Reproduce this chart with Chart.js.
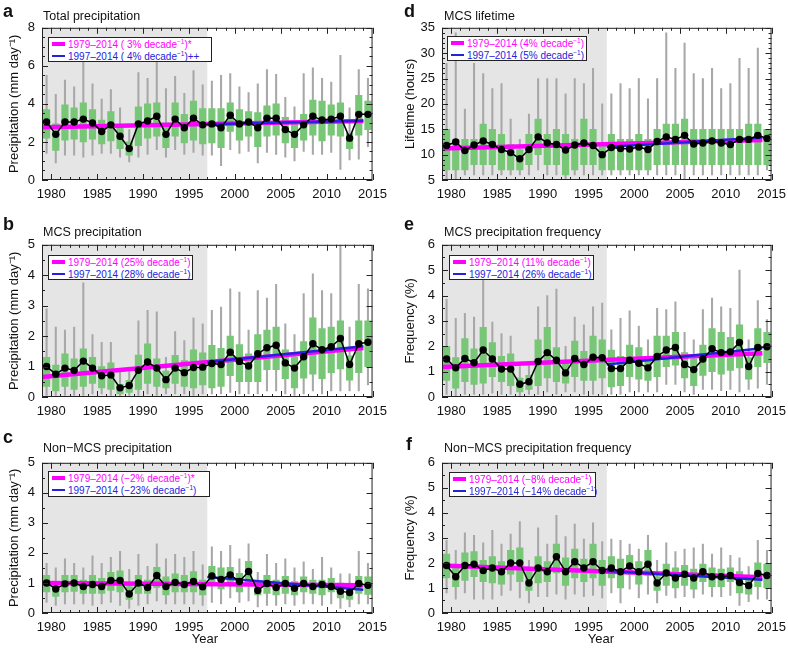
<!DOCTYPE html>
<html>
<head>
<meta charset="utf-8">
<script src="https://cdn.jsdelivr.net/npm/chart.js@4.4.0/dist/chart.umd.min.js"></script>
<style>
  body { margin: 0; background: #fff; font-family: "Liberation Sans", Arial, sans-serif; color: #111; overflow: hidden; }
  #wrap { position: relative; width: 788px; height: 650px; overflow: hidden; }
  canvas { position: absolute; }
  .letter { position: absolute; font-weight: bold; font-size: 18px; line-height: 18px; }
  .title { position: absolute; font-size: 12.5px; line-height: 14px; white-space: nowrap; }
  .xlab { position: absolute; font-size: 13px; line-height: 15px; width: 60px; text-align: center; }
  .legend { position: absolute; background: #fff; border: 1px solid #222; font-size: 10px; line-height: 11.5px; padding: 1px 0 0 3px; white-space: nowrap; box-sizing: border-box; }
  .legend div { height: 11.5px; }
  .legend sup { font-size: 6.5px; line-height: 0; }
  .sw { display: inline-block; width: 13px; margin-right: 3px; vertical-align: middle; position: relative; top: -1px; }
</style>
</head>
<body>
<div id="wrap"></div>
<script>
// years of the record
const years = [1979, 1980, 1981, 1982, 1983, 1984, 1985, 1986, 1987, 1988, 1989, 1990,
  1991, 1992, 1993, 1994, 1995, 1996, 1997, 1998, 1999, 2000, 2001, 2002,
  2003, 2004, 2005, 2006, 2007, 2008, 2009, 2010, 2011, 2012, 2013, 2014];

// a: total precipitation (mm/day)
const totalMean = [3.05, 2.4, 3.05, 3.05, 3.2, 3.0, 2.55, 2.9, 2.3, 1.65, 2.95, 3.1, 3.35, 2.4, 3.2, 2.75, 3.25, 2.9, 2.95, 2.75, 3.4, 2.95, 3.05, 2.75, 3.25, 3.25, 2.65, 2.4, 2.9, 3.35, 3.15, 3.2, 3.35, 2.2, 3.45, 3.45];
const totalQ1 = [2.2, 1.55, 2.1, 2.15, 2.0, 2.15, 1.9, 2.05, 1.65, 1.3, 1.8, 2.2, 2.3, 1.7, 2.3, 1.95, 2.1, 1.9, 1.95, 1.7, 2.55, 2.1, 2.3, 1.75, 2.3, 2.35, 1.95, 1.7, 2.1, 2.35, 2.05, 2.35, 2.3, 1.65, 2.35, 2.65];
const totalQ3 = [3.7, 2.95, 3.95, 3.8, 4.05, 3.7, 3.15, 3.6, 2.85, 2.0, 3.85, 4.0, 4.05, 3.0, 4.05, 3.45, 4.15, 3.75, 3.75, 3.75, 4.05, 3.7, 3.6, 3.55, 3.9, 4.0, 3.3, 3.05, 3.45, 4.2, 4.15, 3.95, 4.05, 2.45, 4.45, 4.15];
const totalMin = [1.4, 0.9, 1.3, 1.3, 1.2, 1.3, 1.4, 1.4, 1.2, 0.95, 1.2, 1.35, 1.6, 1.2, 1.6, 1.35, 1.45, 1.3, 1.3, 0.75, 1.6, 1.4, 1.5, 0.9, 1.45, 1.35, 1.2, 1.0, 1.5, 1.35, 1.35, 1.45, 0.55, 1.05, 1.1, 1.75];
const totalMax = [5.5, 4.5, 5.25, 4.9, 6.2, 5.05, 4.25, 4.75, 3.8, 2.65, 5.65, 5.35, 6.2, 4.8, 5.45, 4.55, 5.75, 5.0, 5.2, 5.5, 5.6, 4.9, 4.6, 5.05, 5.8, 5.55, 4.35, 3.85, 5.6, 5.9, 5.35, 5.15, 6.55, 3.8, 5.8, 5.35];
const totalTrendAll = [2.77, 3.1];
const totalTrendRecent = [2.93, 3.12];

// b: MCS precipitation
const mcsMean = [1.0, 0.75, 0.95, 0.87, 1.18, 0.95, 0.7, 0.72, 0.3, 0.38, 0.88, 1.15, 0.95, 0.57, 0.95, 0.8, 0.97, 0.98, 1.1, 1.07, 1.47, 1.17, 1.02, 1.42, 1.62, 1.7, 1.12, 0.95, 1.32, 1.75, 1.55, 1.65, 1.92, 1.07, 1.75, 1.8];
const mcsQ1 = [0.35, 0.2, 0.35, 0.25, 0.35, 0.45, 0.3, 0.25, 0.1, 0.15, 0.25, 0.45, 0.35, 0.3, 0.45, 0.35, 0.3, 0.4, 0.3, 0.35, 0.7, 0.5, 0.5, 0.5, 0.9, 0.9, 0.6, 0.3, 0.62, 0.75, 0.6, 0.8, 0.92, 0.55, 0.8, 1.0];
const mcsQ3 = [1.3, 1.05, 1.42, 1.25, 1.58, 1.3, 1.0, 1.12, 0.42, 0.55, 1.38, 1.75, 1.25, 0.85, 1.37, 1.2, 1.55, 1.45, 1.7, 1.6, 2.0, 1.72, 1.42, 2.05, 2.2, 2.3, 1.55, 1.32, 1.82, 2.6, 2.25, 2.3, 2.5, 1.35, 2.5, 2.5];
const mcsMin = [0.05, 0.05, 0.05, 0.05, 0.05, 0.1, 0.1, 0.05, 0.02, 0.05, 0.05, 0.1, 0.05, 0.1, 0.1, 0.1, 0.05, 0.1, 0.1, 0.1, 0.15, 0.1, 0.1, 0.1, 0.2, 0.2, 0.1, 0.05, 0.1, 0.2, 0.1, 0.2, 0.2, 0.2, 0.2, 0.4];
const mcsMax = [2.9, 2.3, 2.2, 2.3, 3.75, 2.05, 1.8, 1.8, 0.85, 0.9, 2.5, 2.85, 2.8, 1.3, 2.15, 1.85, 2.6, 2.4, 2.85, 2.95, 3.55, 3.45, 2.2, 3.5, 3.25, 3.7, 2.4, 2.05, 3.4, 4.05, 3.5, 3.4, 5.0, 2.3, 3.7, 3.55];
const mcsTrendAll = [0.66, 1.61];
const mcsTrendRecent = [1.15, 1.67];

// c: non-MCS precipitation
const nonMean = [1.0, 0.8, 0.97, 1.0, 0.88, 0.95, 0.88, 1.08, 1.08, 0.63, 1.0, 0.85, 1.25, 0.88, 1.02, 0.95, 1.05, 0.87, 1.23, 1.12, 1.27, 1.05, 1.38, 0.75, 0.98, 0.85, 0.98, 0.82, 0.98, 0.88, 0.95, 0.88, 0.72, 0.68, 0.98, 0.92];
const nonQ1 = [0.7, 0.55, 0.7, 0.72, 0.65, 0.65, 0.65, 0.75, 0.7, 0.45, 0.65, 0.65, 0.85, 0.6, 0.7, 0.7, 0.7, 0.6, 0.95, 0.8, 0.9, 0.7, 0.95, 0.6, 0.65, 0.6, 0.65, 0.6, 0.7, 0.65, 0.6, 0.7, 0.5, 0.45, 0.65, 0.62];
const nonQ3 = [1.25, 1.0, 1.25, 1.25, 1.1, 1.25, 1.15, 1.35, 1.4, 0.88, 1.25, 1.1, 1.52, 1.2, 1.3, 1.25, 1.38, 1.1, 1.55, 1.5, 1.52, 1.32, 1.72, 1.02, 1.25, 1.1, 1.22, 1.05, 1.2, 1.1, 1.1, 1.15, 1.0, 0.98, 1.22, 1.2];
const nonMin = [0.35, 0.25, 0.3, 0.3, 0.3, 0.25, 0.3, 0.35, 0.25, 0.15, 0.25, 0.3, 0.4, 0.3, 0.3, 0.3, 0.3, 0.25, 0.35, 0.3, 0.5, 0.35, 0.4, 0.2, 0.25, 0.25, 0.3, 0.25, 0.3, 0.3, 0.25, 0.3, 0.15, 0.2, 0.3, 0.3];
const nonMax = [1.65, 1.5, 1.8, 1.65, 1.5, 1.9, 1.65, 1.85, 2.05, 1.45, 1.95, 1.55, 2.3, 1.8, 1.95, 1.85, 2.05, 1.6, 2.2, 2.05, 2.25, 1.8, 2.3, 1.35, 1.95, 1.65, 1.8, 1.5, 1.7, 1.45, 1.85, 1.5, 1.3, 1.3, 2.05, 1.65];
const nonTrendAll = [1.0, 0.92];
const nonTrendRecent = [1.2, 0.77];

// d: MCS lifetime (hours)
const lifeMean = [11.8, 12.5, 10.8, 11.9, 12.7, 12.0, 11.0, 10.4, 9.2, 11.0, 13.5, 12.3, 12.0, 10.9, 11.9, 12.3, 11.8, 10.0, 11.4, 11.2, 11.1, 11.5, 11.0, 12.6, 13.5, 13.0, 13.8, 12.1, 12.3, 12.7, 12.3, 12.0, 13.0, 13.0, 13.8, 13.2];
const lifeQ1 = [7, 7, 7, 8, 8, 8, 7, 7, 7, 8, 10, 8, 8, 6, 7, 8, 8, 7, 7, 7, 7, 7, 7, 8, 8, 8, 8, 8, 8, 8, 8, 8, 8, 8, 8, 8];
const lifeQ3 = [15, 13, 13, 13, 16, 15, 14, 12, 11, 14, 17, 14, 15, 14, 13, 17, 15, 12, 14, 13, 13, 14, 13, 15, 16, 16, 17, 15, 15, 15, 15, 15, 15, 16, 16, 15];
const lifeMin = [5, 5, 6, 6, 6, 6, 6, 6, 6, 6, 7, 6, 6, 5, 6, 6, 6, 6, 6, 6, 6, 6, 6, 6, 6, 6, 5, 6, 6, 6, 6, 6, 6, 6, 6, 7];
const lifeMax = [28, 34, 19, 28, 26, 23, 24, 17, 13, 18, 25, 25, 25, 22, 25, 24, 27, 20, 22, 24, 23, 25, 21, 25, 34, 27, 32, 26, 25, 27, 23, 24, 29, 27, 31, 15];
const lifeTrendAll = [11.2, 12.9];
const lifeTrendRecent = [11.5, 13.4];

// e: MCS precipitation frequency (%)
const mcsFreqMean = [1.5, 1.15, 1.52, 1.35, 1.85, 1.5, 1.1, 1.1, 0.5, 0.6, 1.4, 1.75, 1.45, 0.95, 1.52, 1.28, 1.57, 1.55, 1.12, 1.12, 1.45, 1.33, 1.15, 1.6, 1.85, 1.95, 1.28, 1.08, 1.5, 1.9, 1.75, 1.78, 2.15, 1.2, 1.95, 1.98];
const mcsFreqQ1 = [0.65, 0.35, 0.6, 0.5, 0.55, 0.8, 0.6, 0.45, 0.2, 0.3, 0.45, 0.75, 0.6, 0.55, 0.8, 0.65, 0.65, 0.75, 0.4, 0.45, 0.8, 0.7, 0.65, 0.8, 1.2, 1.25, 0.75, 0.45, 0.85, 1.0, 0.9, 1.05, 1.15, 0.7, 1.2, 1.35];
const mcsFreqQ3 = [2.0, 1.55, 2.3, 1.9, 2.75, 2.15, 1.6, 1.7, 0.75, 0.85, 2.25, 2.75, 1.95, 1.3, 2.2, 1.8, 2.4, 2.25, 1.85, 1.6, 2.05, 1.95, 1.6, 2.4, 2.4, 2.55, 1.75, 1.5, 2.05, 2.7, 2.55, 2.35, 2.85, 1.55, 2.7, 2.55];
const mcsFreqMin = [0.1, 0.05, 0.1, 0.1, 0.1, 0.15, 0.1, 0.1, 0.05, 0.1, 0.1, 0.2, 0.1, 0.2, 0.2, 0.1, 0.1, 0.1, 0.1, 0.1, 0.2, 0.2, 0.2, 0.2, 0.5, 0.5, 0.2, 0.1, 0.3, 0.3, 0.25, 0.3, 0.2, 0.3, 0.35, 0.5];
const mcsFreqMax = [3.85, 3.1, 3.3, 3.15, 4.75, 2.95, 2.5, 2.4, 1.2, 1.3, 3.55, 4.0, 4.25, 2.0, 3.15, 2.85, 3.55, 3.7, 2.65, 3.1, 3.4, 2.8, 2.25, 3.5, 3.45, 3.75, 2.55, 2.25, 3.45, 3.9, 3.55, 3.5, 5.0, 2.25, 3.8, 3.05];
const mcsFreqTrendAll = [1.18, 1.72];
const mcsFreqTrendRecent = [1.28, 1.92];

// f: non-MCS precipitation frequency (%)
const nonFreqMean = [1.9, 1.45, 1.9, 1.95, 1.7, 1.8, 1.65, 2.0, 2.0, 1.2, 1.8, 1.65, 2.25, 1.65, 2.05, 1.8, 2.05, 1.7, 1.8, 1.65, 1.88, 1.65, 1.95, 1.2, 1.6, 1.4, 1.55, 1.4, 1.65, 1.45, 1.45, 1.5, 1.22, 1.1, 1.58, 1.5];
const nonFreqQ1 = [1.4, 1.05, 1.3, 1.45, 1.25, 1.2, 1.15, 1.55, 1.25, 0.9, 1.2, 1.25, 1.6, 1.1, 1.4, 1.25, 1.4, 1.1, 1.4, 1.0, 1.55, 1.15, 1.5, 0.9, 1.1, 1.0, 1.1, 0.95, 1.25, 1.05, 1.05, 1.25, 0.8, 0.75, 1.05, 1.0];
const nonFreqQ3 = [2.35, 1.85, 2.4, 2.45, 2.1, 2.25, 2.05, 2.5, 2.6, 1.75, 2.25, 2.05, 2.75, 2.2, 2.55, 2.15, 2.75, 2.1, 2.25, 2.15, 2.3, 2.05, 2.5, 1.45, 1.95, 1.8, 1.9, 1.75, 1.95, 1.8, 1.75, 1.8, 1.65, 1.45, 2.0, 1.95];
const nonFreqMin = [0.8, 0.55, 0.8, 0.55, 0.55, 0.55, 0.7, 0.9, 0.6, 0.4, 0.65, 0.65, 0.75, 0.55, 0.75, 0.65, 0.7, 0.6, 0.8, 0.4, 0.95, 0.6, 0.75, 0.4, 0.7, 0.6, 0.65, 0.6, 0.75, 0.65, 0.65, 0.7, 0.3, 0.45, 0.55, 0.55];
const nonFreqMax = [2.9, 2.5, 3.2, 3.1, 2.8, 3.3, 2.75, 3.15, 3.65, 2.1, 3.4, 2.75, 3.9, 3.05, 3.55, 2.95, 3.6, 2.85, 2.95, 2.9, 2.75, 2.55, 3.1, 2.1, 2.8, 2.45, 2.55, 2.6, 2.75, 2.35, 2.6, 2.3, 2.2, 1.85, 2.9, 2.5];
const nonFreqTrendAll = [1.9, 1.43];
const nonFreqTrendRecent = [1.68, 1.33];

const boxGreen = '#77c777';
const whiskerGrey = '#a8a8a8';
const shadeGrey = '#e5e5e5';
const magenta = '#ff00ff';
const blue = '#2323dd';

// grey background for 1979-1997 plus the boxed frame with inward ticks
const framePlugin = {
  id: 'frame',
  beforeDatasetsDraw(chart) {
    const { ctx, chartArea: a, scales: { x } } = chart;
    ctx.save();
    ctx.fillStyle = shadeGrey;
    const xEnd = x.getPixelForValue(1997);
    ctx.fillRect(a.left, a.top, xEnd - a.left, a.bottom - a.top);
    ctx.restore();
  },
  afterDatasetsDraw(chart) {
    const { ctx, chartArea: a, scales: { x, y } } = chart;
    const minorY = chart.options.plugins.frame.minorY;
    ctx.save();
    ctx.strokeStyle = '#222';
    ctx.lineWidth = 1;
    ctx.strokeRect(a.left + 0.5, a.top + 0.5, a.right - a.left - 1, a.bottom - a.top - 1);
    ctx.beginPath();
    for (let v = 1979; v <= 2015; v++) {
      const px = Math.round(x.getPixelForValue(v)) + 0.5;
      const len = v % 5 === 0 ? 6 : 3;
      ctx.moveTo(px, a.bottom); ctx.lineTo(px, a.bottom - len);
      ctx.moveTo(px, a.top); ctx.lineTo(px, a.top + len);
    }
    for (let v = y.min; v <= y.max + 1e-6; v += minorY) {
      const py = Math.round(y.getPixelForValue(v)) + 0.5;
      const major = Math.abs(v / y.options.ticks.stepSize - Math.round(v / y.options.ticks.stepSize)) < 1e-6;
      const len = major ? 6 : 3;
      ctx.moveTo(a.left, py); ctx.lineTo(a.left + len, py);
      ctx.moveTo(a.right, py); ctx.lineTo(a.right - len, py);
    }
    ctx.stroke();
    ctx.restore();
  }
};

const wrap = document.getElementById('wrap');

function addText(cls, html, left, top, extra) {
  const el = document.createElement('div');
  el.className = cls;
  el.innerHTML = html;
  el.style.left = left + 'px';
  el.style.top = top + 'px';
  if (extra) Object.assign(el.style, extra);
  wrap.appendChild(el);
  return el;
}

function addLegend(left, top, width, height, allText, recentText) {
  const html =
    '<div style="color:' + magenta + '"><span class="sw" style="height:4px;background:' + magenta + '"></span>' + allText + '</div>' +
    '<div style="color:' + blue + '"><span class="sw" style="height:2.5px;background:' + blue + '"></span>' + recentText + '</div>';
  addText('legend', html, left, top, { width: width + 'px', height: height + 'px' });
}

function makePanel(p) {
  const cv = document.createElement('canvas');
  cv.width = p.w; cv.height = p.h;
  cv.style.left = p.left + 'px';
  cv.style.top = p.top + 'px';
  wrap.appendChild(cv);

  const mid = v => years.map((yr, i) => ({ x: yr + 0.5, y: v[i] }));
  const range = (lo, hi) => years.map((yr, i) => ({ x: yr + 0.5, y: [lo[i], hi[i]] }));

  new Chart(cv.getContext('2d'), {
    type: 'bar',
    data: {
      datasets: [
        { type: 'bar', data: range(p.min, p.max), backgroundColor: whiskerGrey, barThickness: 1.4, grouped: false, order: 6 },
        { type: 'bar', data: range(p.q1, p.q3), backgroundColor: boxGreen, barThickness: 6.5, grouped: false, order: 5 },
        { type: 'line', data: [{ x: 1979, y: p.trendAll[0] }, { x: 2014, y: p.trendAll[1] }], borderColor: magenta, borderWidth: 4.5, pointRadius: 0, order: 4 },
        { type: 'line', data: [{ x: 1997, y: p.trendRecent[0] }, { x: 2014, y: p.trendRecent[1] }], borderColor: blue, borderWidth: 2.5, pointRadius: 0, order: 3 },
        { type: 'line', data: mid(p.mean), borderColor: '#000', borderWidth: 1.5, pointRadius: 3.7, pointBackgroundColor: '#000', pointBorderWidth: 0, order: 2 }
      ]
    },
    options: {
      responsive: false,
      animation: false,
      layout: { padding: { top: 10, right: p.padRight, left: 0, bottom: 0 } },
      plugins: { legend: { display: false }, tooltip: { enabled: false }, frame: { minorY: p.minorY } },
      scales: {
        x: {
          type: 'linear', min: 1979, max: 2015, offset: false,
          grid: { display: false, drawTicks: false }, border: { display: false },
          afterBuildTicks: s => { s.ticks = [1980, 1985, 1990, 1995, 2000, 2005, 2010, 2015].map(v => ({ value: v })); },
          ticks: { callback: v => String(v), color: '#111', font: { size: 13, family: 'Liberation Sans' }, maxRotation: 0, padding: 7 },
          afterFit: s => { s.height = 22; }
        },
        y: {
          min: p.yMin, max: p.yMax,
          grid: { display: false, drawTicks: false }, border: { display: false },
          ticks: { stepSize: p.step, color: '#111', font: { size: 13, family: 'Liberation Sans' }, padding: 7 },
          title: { display: true, text: p.yTitle, color: '#111', font: { size: 13, family: 'Liberation Sans' }, padding: { top: p.titlePad, bottom: 0 } },
          afterFit: s => { s.width = p.yWidth; }
        }
      }
    },
    plugins: [framePlugin]
  });
}

// canvases sit ~15px above their plot frames (layout padding + label room)
// and ~20px wider than the frame on the right, for the 2015 label
const leftCol = { left: 0, w: 394, yWidth: 42, padRight: 19, titlePad: 7 };
const rightCol = { left: 396, w: 397, yWidth: 46, padRight: 19, titlePad: 7 };
const precipTitle = 'Precipitation (mm day\u207B\u00B9)';

makePanel(Object.assign({}, leftCol, { top: 13, h: 189, mean: totalMean, q1: totalQ1, q3: totalQ3, min: totalMin, max: totalMax,
  trendAll: totalTrendAll, trendRecent: totalTrendRecent, yMin: 0, yMax: 8, step: 2, minorY: 0.5, yTitle: precipTitle }));
makePanel(Object.assign({}, leftCol, { top: 230, h: 189, mean: mcsMean, q1: mcsQ1, q3: mcsQ3, min: mcsMin, max: mcsMax,
  trendAll: mcsTrendAll, trendRecent: mcsTrendRecent, yMin: 0, yMax: 5, step: 1, minorY: 0.5, yTitle: precipTitle }));
makePanel(Object.assign({}, leftCol, { top: 448, h: 187, mean: nonMean, q1: nonQ1, q3: nonQ3, min: nonMin, max: nonMax,
  trendAll: nonTrendAll, trendRecent: nonTrendRecent, yMin: 0, yMax: 5, step: 1, minorY: 0.5, yTitle: precipTitle }));
makePanel(Object.assign({}, rightCol, { top: 13, h: 189, mean: lifeMean, q1: lifeQ1, q3: lifeQ3, min: lifeMin, max: lifeMax,
  trendAll: lifeTrendAll, trendRecent: lifeTrendRecent, yMin: 5, yMax: 35, step: 5, minorY: 1, yTitle: 'Lifetime (hours)' }));
makePanel(Object.assign({}, rightCol, { top: 230, h: 189, mean: mcsFreqMean, q1: mcsFreqQ1, q3: mcsFreqQ3, min: mcsFreqMin, max: mcsFreqMax,
  trendAll: mcsFreqTrendAll, trendRecent: mcsFreqTrendRecent, yMin: 0, yMax: 6, step: 1, minorY: 0.5, yTitle: 'Frequency (%)' }));
makePanel(Object.assign({}, rightCol, { top: 448, h: 187, mean: nonFreqMean, q1: nonFreqQ1, q3: nonFreqQ3, min: nonFreqMin, max: nonFreqMax,
  trendAll: nonFreqTrendAll, trendRecent: nonFreqTrendRecent, yMin: 0, yMax: 6, step: 1, minorY: 0.5, yTitle: 'Frequency (%)' }));

// panel letters and titles
addText('letter', 'a', 3, 2);
addText('letter', 'b', 3, 215);
addText('letter', 'c', 3, 428);
addText('letter', 'd', 404, 2);
addText('letter', 'e', 404, 215);
addText('letter', 'f', 406, 435);
addText('title', 'Total precipitation', 43, 9);
addText('title', 'MCS precipitation', 43, 225);
addText('title', 'Non\u2212MCS precipitation', 43, 441);
addText('title', 'MCS lifetime', 444, 9);
addText('title', 'MCS precipitation frequency', 444, 225);
addText('title', 'Non\u2212MCS precipitation frequency', 444, 441);
addText('xlab', 'Year', 175, 631);
addText('xlab', 'Year', 571, 631);

// legends
const dec = ' decade<sup>\u22121</sup>)';
addLegend(48, 37, 164, 25, '1979\u20132014 ( 3%' + dec + '*', '1997\u20132014 ( 4%' + dec + '++');
addLegend(48, 255, 145, 25, '1979\u20132014 (25%' + dec, '1997\u20132014 (28%' + dec);
addLegend(48, 471, 162, 26, '1979\u20132014 (\u22122%' + dec + '*', '1997\u20132014 (\u221223%' + dec);
addLegend(447, 36, 140, 25, '1979\u20132014 (4%' + dec, '1997\u20132014 (5%' + dec);
addLegend(449, 255, 145, 25, '1979\u20132014 (11%' + dec, '1997\u20132014 (26%' + dec);
addLegend(449, 472, 147, 25, '1979\u20132014 (\u22128%' + dec, '1997\u20132014 (\u221214%' + dec);
</script>
</body>
</html>
